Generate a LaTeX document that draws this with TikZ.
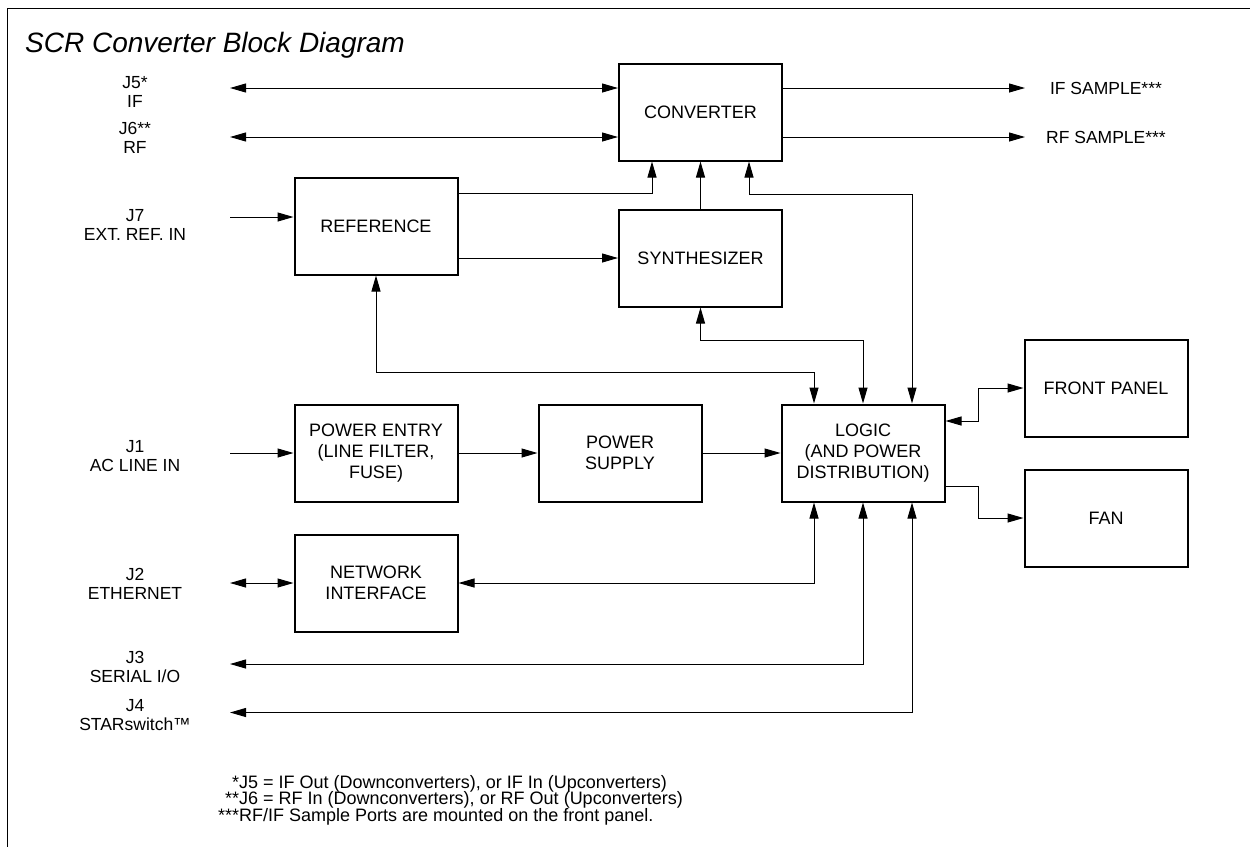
\documentclass[tikz,border=0pt]{standalone}
\usepackage{fontspec}
\setmainfont{Liberation Sans}
\usetikzlibrary{arrows.meta,calc}
\newcommand\lblfont{\fontsize{17.5}{19.5}\selectfont}
\newcommand\blkfont{\fontsize{18}{21}\selectfont}
\newcommand\notefont{\fontsize{18}{16.5}\selectfont}
\newcommand\ttlfont{\fontsize{28}{32}\selectfont\itshape}
\begin{document}
\begin{tikzpicture}[x=1pt,y=-1pt,
  >={Triangle[length=16pt,width=9pt]},
  blk/.style={draw,line width=2pt,minimum width=163pt,minimum height=97pt,inner sep=0pt,align=center,font=\blkfont},
  lab/.style={align=center,inner sep=0pt,font=\lblfont},
  note/.style={anchor=base west,inner sep=0pt,font=\notefont},
  con/.style={line width=1pt},
  frame/.style={line width=1.6pt}]
\useasboundingbox (0,0) rectangle (1250,847);
% frame
\coordinate (fa) at (1250,8.5);
\coordinate (fb) at (7.5,8.5);
\coordinate (fc) at (7.5,847);
\draw[frame] (fa) -- (fb) -- (fc);
% title
\node[anchor=base west,inner sep=0pt,font=\ttlfont] (title) at (25,52) {SCR Converter Block Diagram};
% blocks
\node[blk] (conv) at (700.5,112) {CONVERTER};
\node[blk] (synth) at (700.5,258) {SYNTHESIZER};
\node[blk] (ref) at (376,226) {REFERENCE};
\node[blk] (pe) at (376,453) {POWER ENTRY\\(LINE FILTER,\\FUSE)};
\node[blk] (ps) at (620,453) {POWER\\SUPPLY};
\node[blk] (logic) at (863,453) {LOGIC\\(AND POWER\\DISTRIBUTION)};
\node[blk] (ni) at (376,583) {NETWORK\\INTERFACE};
\node[blk] (fp) at (1106,388) {FRONT PANEL};
\node[blk] (fan) at (1106,518) {FAN};
% jack labels
\node[lab] (l5) at (135,92) {J5*\\IF};
\node[lab] (l6) at (135,138) {J6**\\RF};
\node[lab] (l7) at (135,225) {J7\\EXT. REF. IN};
\node[lab] (l1) at (135,456) {J1\\AC LINE IN};
\node[lab] (l2) at (135,584) {J2\\ETHERNET};
\node[lab] (l3) at (135,667) {J3\\SERIAL I/O};
\node[lab] (l4) at (135,715) {J4\\STARswitch™};
\node[lab] (ifs) at (1106,88) {IF SAMPLE***};
\node[lab] (rfs) at (1106,137) {RF SAMPLE***};
% connector free ends
\coordinate (j5) at (230,88);
\coordinate (j6) at (230,137);
\coordinate (j7) at (230,217);
\coordinate (j1) at (230,453);
\coordinate (j2) at (230,583);
\coordinate (j3) at (230,664);
\coordinate (j4) at (230,712.5);
\coordinate (ifo) at (1025,88);
\coordinate (rfo) at (1025,137);
% connectors
\draw[con,<->] (j5) -- ([yshift=24pt]conv.west);
\draw[con,<->] (j6) -- ([yshift=-25pt]conv.west);
\draw[con,->] ([yshift=24pt]conv.east) -- (ifo);
\draw[con,->] ([yshift=-25pt]conv.east) -- (rfo);
\draw[con,->] ([yshift=33pt]ref.east) -| ([xshift=-48.5pt]conv.south);
\draw[con,->] (synth.north) -- (conv.south);
\draw[con,<->] ([xshift=48.5pt]conv.south) -- ++(0,32.5) -| ([xshift=49pt]logic.north);
\draw[con,->] ([yshift=-32pt]ref.east) -- (synth.west);
\draw[con,->] (j7) -- (j7 -| ref.west);
\draw[con,<->] (ref.south) -- ++(0,97) -| ([xshift=-49pt]logic.north);
\draw[con,<->] (synth.south) -- ++(0,33) -| (logic.north);
\draw[con,->] (j1) -- (pe.west);
\draw[con,->] (pe.east) -- (ps.west);
\draw[con,->] (ps.east) -- (logic.west);
\draw[con,<->] ([yshift=32pt]logic.east) -- ++(32.5,0) |- (fp.west);
\draw[con,->] ([yshift=-33pt]logic.east) -- ++(32.5,0) |- (fan.west);
\draw[con,<->] (j2) -- (ni.west);
\draw[con,<->] (ni.east) -| ([xshift=-49pt]logic.south);
\draw[con,<->] (j3) -| (logic.south);
\draw[con,<->] (j4) -| ([xshift=49pt]logic.south);
% footnotes
\node[note] (n1) at (239,788) {\llap{*}J5 = IF Out (Downconverters), or IF In (Upconverters)};
\node[note] (n2) at (239,804.5) {\llap{**}J6 = RF In (Downconverters), or RF Out (Upconverters)};
\node[note] (n3) at (239,821) {\llap{***}RF/IF Sample Ports are mounted on the front panel.};
\end{tikzpicture}
\end{document}
